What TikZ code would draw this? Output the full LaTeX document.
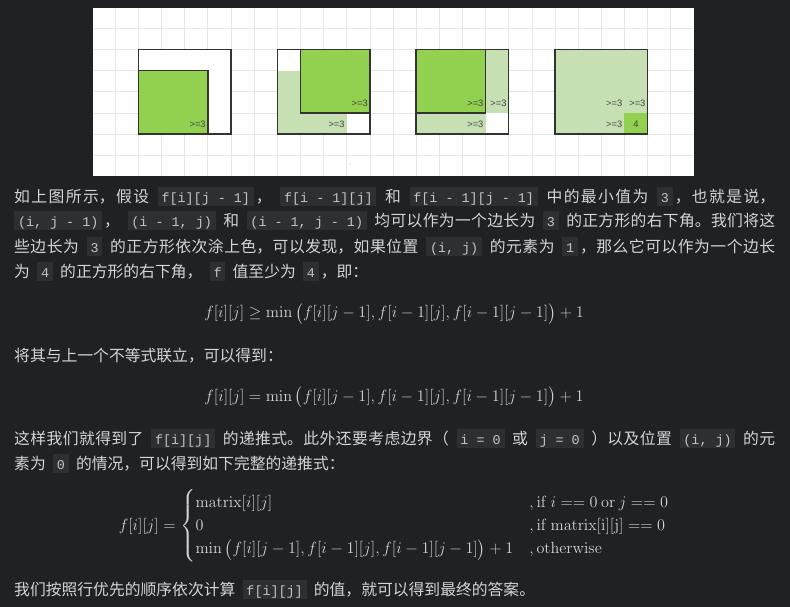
\documentclass[tikz,border=0pt]{standalone}
\usepackage{fix-cm}
\usepackage{amsmath}
\usepackage[no-math]{fontspec}
\setmainfont{Noto Sans CJK SC}
\setmonofont{Liberation Mono}
\newfontfamily\labelfont{Liberation Sans}
\usepackage{xcolor}
\usetikzlibrary{positioning, calc}

\XeTeXlinebreaklocale "zh"
\XeTeXlinebreakskip=0pt plus 1pt

\definecolor{pagebg}{HTML}{202124}
\definecolor{bodytext}{HTML}{D4D4D4}
\definecolor{codebg}{HTML}{2E2F32}
\definecolor{codetext}{HTML}{C4C4C4}
\definecolor{gridgray}{HTML}{E6E6E6}
\definecolor{darkgreen}{HTML}{92D050}
\definecolor{lightgreen}{HTML}{C6E0B4}
\definecolor{edgegray}{HTML}{333333}
\definecolor{taggray}{HTML}{444444}

\newcommand\bodyfont{\fontsize{15.8}{25}\selectfont}
\newcommand\eqfont{\fontsize{16.2}{19.4}\selectfont}
\newcommand\gap{\hskip 5.3pt plus 1pt minus 1pt}
\newcommand\icode[1]{\kern2pt{\setlength\fboxsep{0pt}\colorbox{codebg}{\rule[-3.5pt]{0pt}{19pt}\kern3.8pt\textcolor{codetext}{\ttfamily\fontsize{13.4}{15}\selectfont #1}\kern3.8pt}}\kern2pt}
\newcommand\jline[1]{\parbox[b]{761pt}{\parfillskip=0pt\relax #1}}

\tikzset{
  textline/.style={anchor=base west, inner sep=0pt, text=bodytext, font=\bodyfont},
  mathline/.style={anchor=base, inner sep=0pt, text=bodytext, font=\eqfont},
  gridline/.style={draw=gridgray, line width=0.8pt},
  sqedge/.style={draw=edgegray, line width=1.3pt},
  tag/.style={anchor=east, inner sep=2pt, text=taggray, font=\labelfont\fontsize{9.3}{9.3}\selectfont}
}

\begin{document}
\begin{tikzpicture}[x=1pt, y=-1pt]
\useasboundingbox (0,0) rectangle (790,607);
\fill[pagebg] (0,0) rectangle (790,607);

% picture panel with grid
\fill[white] (93.3,8) rectangle (694,175.7);
\foreach \k in {-1,...,23} {
    \draw[gridline] ({138.4+23.15*\k},8) -- ({138.4+23.15*\k},175.7);
}
\foreach \k in {-1,...,5} {
    \draw[gridline] (93.3,{49.7+21.08*\k}) -- (694,{49.7+21.08*\k});
}
\fill[gray!50] (350,164) circle (0.7);

% square 1
\begin{scope}[shift={(138.4,49.7)}, x=23.15pt, y=-21.08pt]
\fill[white] (0,0) rectangle (4,4);
\fill[darkgreen] (0,1) rectangle (3,4);
\draw[sqedge] (0,1) rectangle (3,4);
\draw[sqedge] (0,0) rectangle (4,4);
\node[tag] (a1) at (3,3.55) {>=3};
\end{scope}

% square 2
\begin{scope}[shift={(277.3,49.7)}, x=23.15pt, y=-21.08pt]
\fill[white] (0,0) rectangle (4,4);
\fill[lightgreen] (0,1) rectangle (3,4);
\fill[darkgreen] (1,0) rectangle (4,3);
\draw[sqedge] (1,0) rectangle (4,3);
\draw[sqedge] (0,0) rectangle (4,4);
\node[tag] (b1) at (4,2.55) {>=3};
\node[tag] (b2) at (3,3.55) {>=3};
\end{scope}

% square 3
\begin{scope}[shift={(416.1,49.7)}, x=23.15pt, y=-21.08pt]
\fill[white] (0,0) rectangle (4,4);
\fill[lightgreen] (0,0) rectangle (4,3);
\fill[lightgreen] (0,3) rectangle (3,4);
\fill[darkgreen] (0,0) rectangle (3,3);
\draw[sqedge] (0,0) rectangle (3,3);
\draw[sqedge] (0,0) rectangle (4,4);
\node[tag] (c1) at (3,2.55) {>=3};
\node[tag] (c2) at (4,2.55) {>=3};
\node[tag] (c3) at (3,3.55) {>=3};
\end{scope}

% square 4
\begin{scope}[shift={(555.0,49.7)}, x=23.15pt, y=-21.08pt]
\fill[lightgreen] (0,0) rectangle (4,4);
\fill[darkgreen] (3,3) rectangle (4,4);
\draw[sqedge] (0,0) rectangle (4,4);
\node[tag] (d1) at (3,2.55) {>=3};
\node[tag] (d2) at (4,2.55) {>=3};
\node[tag] (d3) at (3,3.55) {>=3};
\node[tag, anchor=center] (d4) at (3.5,3.55) {4};
\end{scope}

% text
\node[textline] (p1) at (14,202) {\jline{如上图所示，假设\gap\icode{f[i][j - 1]}，\gap\icode{f[i - 1][j]}\gap 和\gap\icode{f[i - 1][j - 1]}\gap 中的最小值为\gap\icode{3}，也就是说，}};
\node[textline] (p2) at (14,226.8) {\jline{\icode{(i, j - 1)}，\gap\icode{(i - 1, j)}\gap 和\gap\icode{(i - 1, j - 1)}\gap 均可以作为一个边长为\gap\icode{3}\gap 的正方形的右下角。我们将这}};
\node[textline] (p3) at (14,252.4) {\jline{些边长为\gap\icode{3}\gap 的正方形依次涂上色，可以发现，如果位置\gap\icode{(i, j)}\gap 的元素为\gap\icode{1}，那么它可以作为一个边长}};
\node[textline] (p4) at (14,277.6) {为\gap\icode{4}\gap 的正方形的右下角，\gap\icode{f}\gap 值至少为\gap\icode{4}，即：};

\node[mathline] (eq1) at (394,317.8) {$\displaystyle f[i][j] \geq \min\,\bigl(f[i][j-1], f[i-1][j], f[i-1][j-1]\bigr) + 1$};

\node[textline] (p5) at (14,361) {将其与上一个不等式联立，可以得到：};

\node[mathline] (eq2) at (394,401.5) {$\displaystyle f[i][j] = \min\,\bigl(f[i][j-1], f[i-1][j], f[i-1][j-1]\bigr) + 1$};

\node[textline] (p6) at (14,444) {\jline{这样我们就得到了\gap\icode{f[i][j]}\gap 的递推式。此外还要考虑边界（\gap\icode{i = 0}\gap 或\gap\icode{j = 0}\gap ）以及位置\gap\icode{(i, j)}\gap 的元}};
\node[textline] (p7) at (14,469) {素为\gap\icode{0}\gap 的情况，可以得到如下完整的递推式：};

\node[mathline] (eq3) at (394,530) {$\displaystyle f[i][j] = \begin{cases}
  \mathrm{matrix}[i][j] & ,\mathrm{if}\ i == 0\ \mathrm{or}\ j == 0 \\
  0 & ,\mathrm{if}\ \mathrm{matrix[i][j]} == 0 \\
  \min\,\bigl(f[i][j-1], f[i-1][j], f[i-1][j-1]\bigr) + 1 & ,\mathrm{otherwise}
\end{cases}$};

\node[textline] (p8) at (14,595) {我们按照行优先的顺序依次计算\gap\icode{f[i][j]}\gap 的值，就可以得到最终的答案。};
\end{tikzpicture}
\end{document}
